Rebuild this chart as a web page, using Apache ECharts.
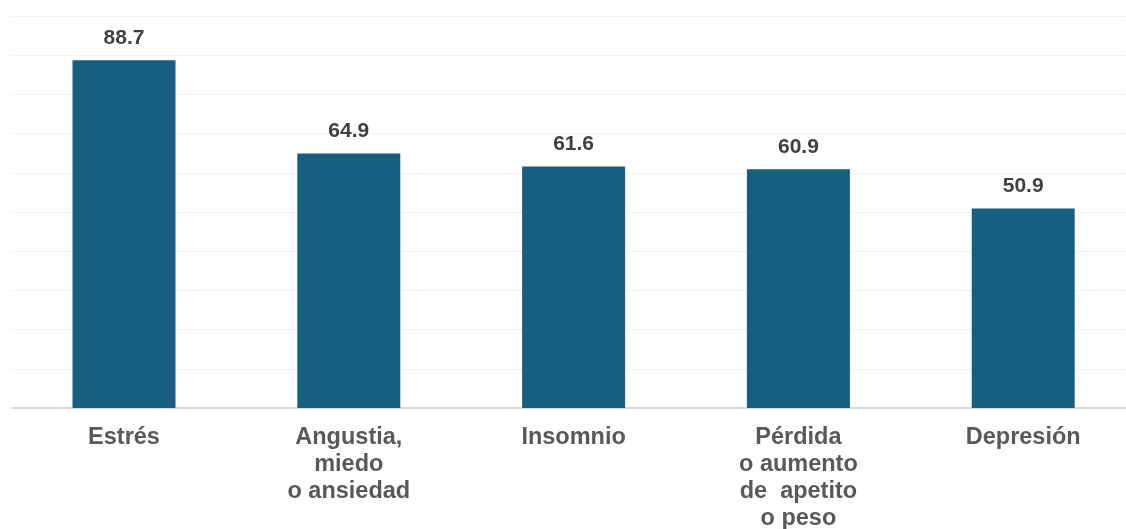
<!DOCTYPE html>
<html>
<head>
<meta charset="utf-8">
<script src="https://cdn.jsdelivr.net/npm/echarts@6/dist/echarts.min.js"></script>
<style>
html,body{margin:0;padding:0;background:#fff;}
#c{width:1126px;height:529px;}
</style>
</head>
<body>
<div id="c"></div>
<script>
const categories = ["Estrés", "Angustia,\nmiedo\no ansiedad", "Insomnio", "Pérdida\no aumento\nde  apetito\no peso", "Depresión"];
const values = [88.7, 64.9, 61.6, 60.9, 50.9];
const yMin = 0, yMax = 100, yInterval = 10;

const chart = echarts.init(document.getElementById('c'), null, {renderer: 'canvas'});
chart.setOption({
  animation: false,
  backgroundColor: '#ffffff',
  grid: {left: 11.6, top: 16, width: 1124, height: 392, containLabel: false, outerBoundsMode: 'none'},
  xAxis: {
    type: 'category',
    data: categories,
    axisLine: {show: true, lineStyle: {color: '#d9d9d9', width: 2}},
    axisTick: {show: false},
    axisLabel: {
      interval: 0,
      color: '#595959',
      fontFamily: 'Liberation Sans, Arial, sans-serif',
      fontWeight: 'bold',
      fontSize: 23.5,
      lineHeight: 27,
      margin: 16
    }
  },
  yAxis: {
    type: 'value',
    min: yMin, max: yMax, interval: yInterval,
    axisLine: {show: false},
    axisTick: {show: false},
    axisLabel: {show: false},
    splitLine: {show: true, lineStyle: {color: '#e3e3e3', width: 1, type: [2, 2]}}
  },
  series: [{
    type: 'bar',
    data: values,
    barWidth: 103,
    itemStyle: {color: '#175f80'},
    label: {
      show: true,
      position: 'top',
      distance: 12,
      color: '#404040',
      fontFamily: 'Liberation Sans, Arial, sans-serif',
      fontWeight: 'bold',
      fontSize: 21,
      formatter: p => p.value.toFixed(1)
    }
  }]
});
</script>
</body>
</html>
